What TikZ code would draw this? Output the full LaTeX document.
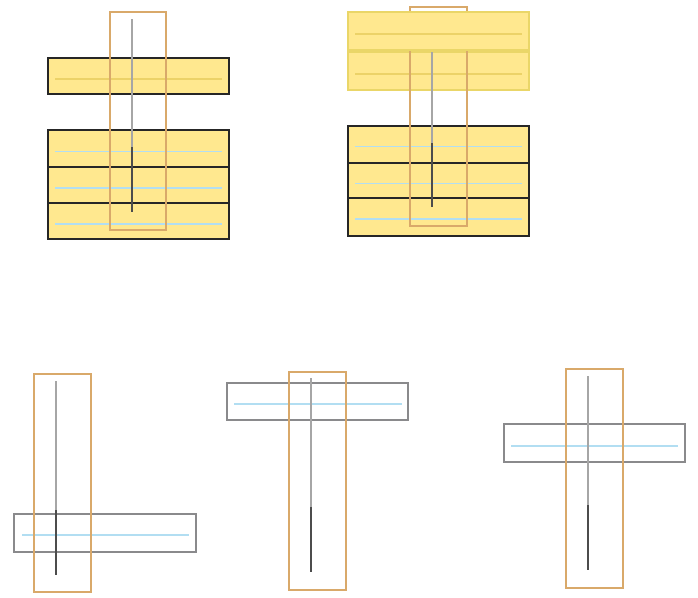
\documentclass[tikz,border=0pt]{standalone}
\definecolor{SlabYellow}{RGB}{255,232,143}
\definecolor{PostOrange}{RGB}{217,169,106}
\definecolor{GuideBlue}{RGB}{178,222,242}
\definecolor{FrameGray}{RGB}{138,138,140}
\definecolor{FadedEdge}{RGB}{234,214,104}
\definecolor{FadedLine}{RGB}{236,210,104}
\usepackage{tikz}
\usetikzlibrary{calc}

\begin{document}
\begin{tikzpicture}[x=1pt, y=-1pt,
    slab/.style={draw=black!85, line width=2.9pt, fill=SlabYellow},
    fadedslab/.style={draw=FadedEdge, line width=2.6pt, fill=SlabYellow},
    openslab/.style={draw=FrameGray, line width=2.7pt},
    post/.style={draw=PostOrange, line width=2.8pt},
    guide/.style={draw=GuideBlue, line width=1.2pt},
    yguide/.style={draw=FadedLine, line width=1.2pt},
    axisline/.style={draw=black!35, line width=1.2pt},
    axisdark/.style={draw=black!70, line width=1.3pt}]
    \useasboundingbox (0,0) rectangle (698,597);

    % top left: single slab above a stack of three
    \draw[slab] (48,58) rectangle (229,94);
    \draw[yguide] (55,79) -- (222,79);
    \foreach \top/\bot/\mid in {130/167/151.5, 167/203/188, 203/239/224} {
        \draw[slab] (48,\top) rectangle (229,\bot);
        \draw[guide] (55,\mid) -- (222,\mid);
    }
    \draw[post] (110,12) rectangle (166,230);
    \draw[axisline] (132,19) -- (132,147);
    \draw[axisdark] (132,147) -- (132,212);

    % top right: faded pair over a stack of three
    \draw[fadedslab] (348,52) rectangle (529,90);
    \draw[yguide] (355,74) -- (522,74);
    \foreach \top/\bot/\mid in {126/163/146.7, 163/198/183.7, 198/236/219} {
        \draw[slab] (348,\top) rectangle (529,\bot);
        \draw[guide] (355,\mid) -- (522,\mid);
    }
    \draw[post] (410,7) rectangle (467,226);
    \draw[axisline] (432,52) -- (432,143);
    \draw[axisdark] (432,143) -- (432,207);
    \draw[fadedslab] (348,12) rectangle (529,50);
    \draw[yguide] (355,34) -- (522,34);

    % bottom: open frame at three heights
    \draw[openslab] (14,514) rectangle (196,552);
    \draw[guide] (22,535) -- (189,535);
    \draw[post] (34,374) rectangle (91,592);
    \draw[axisline] (56,381) -- (56,510);
    \draw[axisdark] (56,510) -- (56,575);

    \draw[openslab] (227,383) rectangle (408,420);
    \draw[guide] (234,404) -- (402,404);
    \draw[post] (289,372) rectangle (346,590);
    \draw[axisline] (311,378) -- (311,507);
    \draw[axisdark] (311,507) -- (311,572);

    \draw[openslab] (504,424) rectangle (685,462);
    \draw[guide] (511,446) -- (678,446);
    \draw[post] (566,369) rectangle (623,588);
    \draw[axisline] (588,376) -- (588,505);
    \draw[axisdark] (588,505) -- (588,570);
\end{tikzpicture}
\end{document}
